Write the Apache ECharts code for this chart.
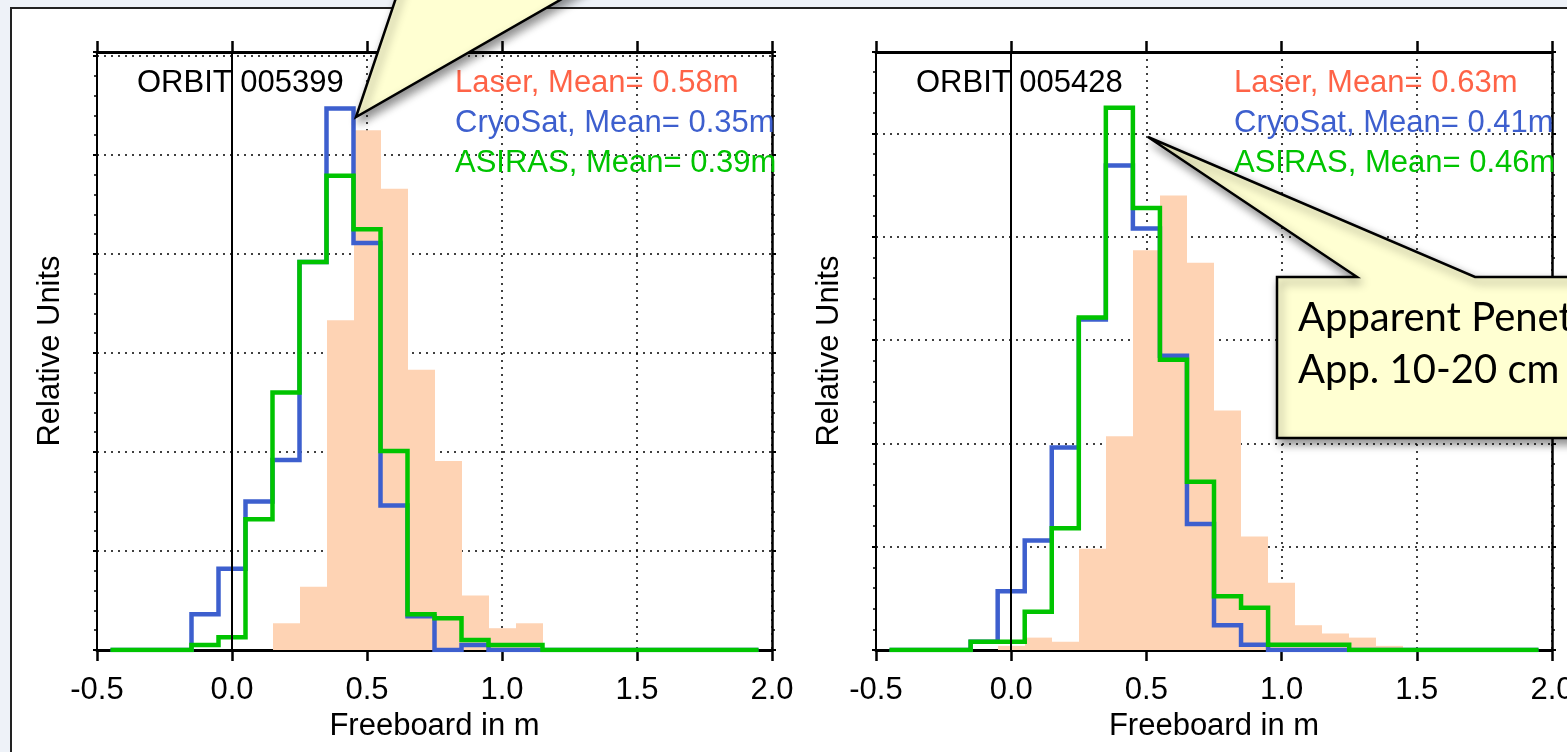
<!DOCTYPE html>
<html>
<head>
<meta charset="utf-8">
<script src="https://cdn.jsdelivr.net/npm/echarts@6/dist/echarts.min.js"></script>
<style>
  html, body { margin: 0; padding: 0; width: 1567px; height: 752px; overflow: hidden; background: #eef2f8; }
  #frame { position: absolute; left: 10px; top: 7px; width: 1600px; height: 800px; background: #fff; border: 2px solid #222; }
  #chart { position: absolute; left: 0; top: 0; width: 1567px; height: 752px; }
</style>
</head>
<body>
<div id="frame"></div>
<div id="chart"></div>
<script>
// bin centres (m), bins are 0.1 m wide
const binCenters = [-0.4, -0.3, -0.2, -0.1, 0.0, 0.1, 0.2, 0.3, 0.4, 0.5, 0.6, 0.7,
                    0.8, 0.9, 1.0, 1.1, 1.2, 1.3, 1.4, 1.5, 1.6, 1.7, 1.8, 1.9];

// ORBIT 005399
const laserA  = [0, 0, 0, 0, 0, 0, 0.27, 0.64, 3.33, 5.25, 4.66, 2.83, 1.91, 0.55, 0.22, 0.27, 0, 0, 0, 0, 0, 0, 0, 0];
const cryoA   = [0, 0, 0, 0.36, 0.82, 1.50, 1.92, 3.92, 5.47, 4.11, 1.46, 0.34, 0, 0.05, 0, 0, 0, 0, 0, 0, 0, 0, 0, 0];
const asirasA = [0, 0, 0, 0.05, 0.13, 1.32, 2.60, 3.92, 4.79, 4.25, 2.01, 0.36, 0.32, 0.10, 0.05, 0.05, 0, 0, 0, 0, 0, 0, 0, 0];

// ORBIT 005428
const laserB  = [0, 0, 0, 0, 0.04, 0.12, 0.08, 0.98, 2.07, 3.87, 4.40, 3.75, 2.32, 1.10, 0.65, 0.24, 0.16, 0.12, 0.04, 0, 0, 0, 0, 0];
const cryoB   = [0, 0, 0, 0.08, 0.57, 1.06, 1.96, 3.20, 4.69, 4.08, 2.85, 1.22, 0.24, 0.05, 0, 0, 0, 0, 0, 0, 0, 0, 0, 0];
const asirasB = [0, 0, 0, 0.08, 0.08, 0.37, 1.18, 3.22, 5.25, 4.28, 2.81, 1.63, 0.52, 0.41, 0.05, 0.05, 0.05, 0, 0, 0, 0, 0, 0, 0];

const orbits      = ['ORBIT 005399', 'ORBIT 005428'];
const laserMeans  = ['0.58', '0.63'];
const cryoMeans   = ['0.35', '0.41'];
const asirasMeans = ['0.39', '0.46'];
const yMax = [6.04, 5.79];

const FONT = '"Liberation Sans", Arial, Helvetica, sans-serif';
const FS = 31;
const LASER = '#fed3b4', BLUE = '#3d5fce', GREEN = '#00c400';
const BIN_HALF = 0.05;

// histogram edges for step lines
function stepData(vals) {
    const d = binCenters.map((c, i) => [+(c - BIN_HALF).toFixed(2), vals[i]]);
    d.push([+(binCenters[binCenters.length - 1] + BIN_HALF).toFixed(2), vals[vals.length - 1]]);
    return d;
}

function laserItem(params, api) {
    const c = api.value(0), v = api.value(1);
    if (!v) return;
    const p0 = api.coord([c - BIN_HALF, v]);
    const p1 = api.coord([c + BIN_HALF, 0]);
    const x0 = Math.round(p0[0]), x1 = Math.round(p1[0]);
    return {
        type: 'rect',
        shape: { x: x0, y: p0[1], width: x1 - x0, height: p1[1] - p0[1] },
        style: { fill: LASER }
    };
}

const dotted = { type: [2, 5], color: '#000', width: 1.5 };
const grids = [], xAxes = [], yAxes = [], series = [];
const gridPos = [{ left: 97, right: 795 }, { left: 876, right: 15 }];
const lasers = [laserA, laserB], cryos = [cryoA, cryoB], asirases = [asirasA, asirasB];

gridPos.forEach((g, i) => {
    grids.push({ left: g.left, right: g.right, top: 52, bottom: 102, containLabel: false, outerBoundsMode: 'none' });
    xAxes.push({
        type: 'value', gridIndex: i, position: 'bottom', min: -0.5, max: 2.0, interval: 0.5,
        name: 'Freeboard in m', nameLocation: 'middle', nameGap: 59,
        nameTextStyle: { fontFamily: FONT, fontSize: FS, color: '#000' },
        axisLine: { onZero: false, lineStyle: { color: '#000', width: 3 } },
        axisTick: { show: true, inside: false, length: 11, lineStyle: { color: '#000', width: 2.5 } },
        axisLabel: { fontFamily: FONT, fontSize: FS, color: '#000', margin: 25, showMinLabel: true, showMaxLabel: true,
                     formatter: v => v.toFixed(1) },
        splitLine: { show: true, lineStyle: dotted }
    });
    xAxes.push({
        type: 'value', gridIndex: i, position: 'top', min: -0.5, max: 2.0, interval: 0.5,
        axisLine: { onZero: false, lineStyle: { color: '#000', width: 3 } },
        axisTick: { show: true, inside: false, length: 11, lineStyle: { color: '#000', width: 2.5 } },
        axisLabel: { show: false },
        splitLine: { show: false }
    });
    yAxes.push({
        type: 'value', gridIndex: i, position: 'left', min: 0, max: yMax[i], interval: 1,
        name: 'Relative Units', nameLocation: 'middle', nameGap: 31,
        nameTextStyle: { fontFamily: FONT, fontSize: FS, color: '#000' },
        axisLine: { show: true, onZero: false, lineStyle: { color: '#000', width: 2 } },
        axisTick: { show: true, length: 4, lineStyle: { color: '#000', width: 2 } },
        minorTick: { show: true, splitNumber: 5, length: 3, lineStyle: { color: '#000', width: 1.5 } },
        axisLabel: { show: false },
        splitLine: { show: true, lineStyle: dotted }
    });
    yAxes.push({
        type: 'value', gridIndex: i, position: 'right', min: 0, max: yMax[i], interval: 1,
        axisLine: { show: true, onZero: false, lineStyle: { color: '#000', width: 2.5 } },
        axisTick: { show: true, length: 4, lineStyle: { color: '#000', width: 2 } },
        minorTick: { show: true, splitNumber: 5, length: 3, lineStyle: { color: '#000', width: 1.5 } },
        axisLabel: { show: false },
        splitLine: { show: false }
    });

    const xi = i * 2, yi = i * 2;
    series.push({
        type: 'custom', xAxisIndex: xi, yAxisIndex: yi, z: 2, silent: true,
        renderItem: laserItem,
        data: binCenters.map((c, k) => [c, lasers[i][k]]),
        markLine: {
            silent: true, symbol: 'none', label: { show: false },
            lineStyle: { color: '#000', width: 2, type: 'solid' },
            data: [{ xAxis: 0 }]
        }
    });
    series.push({
        type: 'line', xAxisIndex: xi, yAxisIndex: yi, z: 3, silent: true, step: 'end',
        symbol: 'none', data: stepData(cryos[i]),
        lineStyle: { color: BLUE, width: 4.5, join: 'miter' }
    });
    series.push({
        type: 'line', xAxisIndex: xi, yAxisIndex: yi, z: 4, silent: true, step: 'end',
        symbol: 'none', data: stepData(asirases[i]),
        lineStyle: { color: GREEN, width: 4.5, join: 'miter' }
    });
});

// in-plot texts
const textX = [{ orbit: 137, legend: 455 }, { orbit: 916, legend: 1234 }];
const texts = [];
textX.forEach((t, i) => {
    const base = { font: FS + 'px ' + FONT, verticalAlign: 'middle', align: 'left' };
    texts.push({ type: 'text', z: 50, silent: true, style: Object.assign({ text: orbits[i], x: t.orbit, y: 83, fill: '#000' }, base) });
    texts.push({ type: 'text', z: 50, silent: true, style: Object.assign({ text: 'Laser, Mean= ' + laserMeans[i] + 'm', x: t.legend, y: 83, fill: '#fe6347' }, base) });
    texts.push({ type: 'text', z: 50, silent: true, style: Object.assign({ text: 'CryoSat, Mean= ' + cryoMeans[i] + 'm', x: t.legend, y: 123, fill: BLUE }, base) });
    texts.push({ type: 'text', z: 50, silent: true, style: Object.assign({ text: 'ASIRAS, Mean= ' + asirasMeans[i] + 'm', x: t.legend, y: 163, fill: GREEN }, base) });
});

const calloutStyle = {
    fill: '#ffffd2', stroke: '#000', lineWidth: 2.5, lineJoin: 'miter',
    shadowBlur: 10, shadowColor: 'rgba(0,0,0,0.45)', shadowOffsetX: 3, shadowOffsetY: 5
};
const CALLOUT_FONT = '40px Lato, "Open Sans", sans-serif';

const callouts = [
    {
        type: 'polygon', z: 100, silent: true,
        shape: { points: [[356, 117], [402, -20], [595, -20]] },
        style: calloutStyle
    },
    {
        type: 'polygon', z: 100, silent: true,
        shape: { points: [[1148, 137], [1475, 277], [1600, 277], [1600, 438], [1277, 438], [1277, 277], [1357, 277]] },
        style: calloutStyle
    },
    {
        type: 'text', z: 101, silent: true,
        style: { text: 'Apparent Penetration', x: 1298, y: 318, font: CALLOUT_FONT, fill: '#000', verticalAlign: 'middle' }
    },
    {
        type: 'text', z: 101, silent: true,
        style: { text: 'App. 10-20 cm', x: 1298, y: 370, font: CALLOUT_FONT, fill: '#000', verticalAlign: 'middle' }
    }
];

const chart = echarts.init(document.getElementById('chart'), null, { renderer: 'canvas' });
chart.setOption({
    backgroundColor: 'transparent',
    animation: false,
    grid: grids,
    xAxis: xAxes,
    yAxis: yAxes,
    series: series,
    graphic: { elements: texts.concat(callouts) }
});
</script>
</body>
</html>
